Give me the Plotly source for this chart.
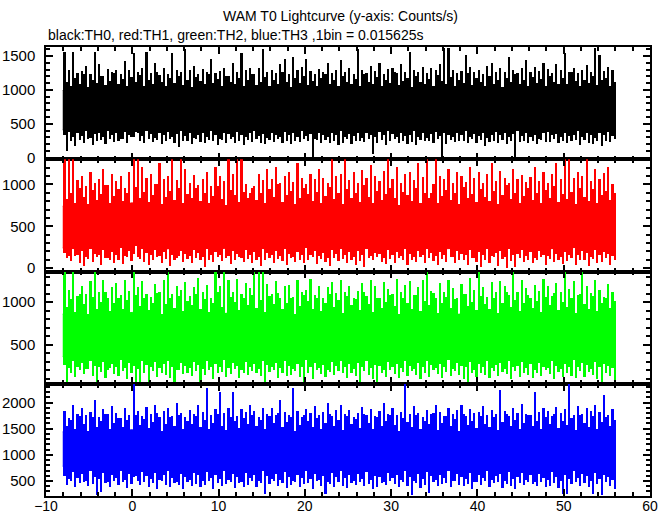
import numpy as np
import plotly.graph_objects as go
from plotly.subplots import make_subplots

# ---------------- data ----------------
# time grid (s) for the dense core envelope of each light curve
core_t = [-8.06, -6, -4, -2, 0, 2, 4, 6, 8, 10, 12, 14, 16, 18, 20, 22, 24, 26,
          28, 30, 32, 34, 36, 38, 40, 42, 44, 46, 48, 50, 52, 54, 56.0]
# spike time grids (s)
grid_a = np.round(-7.85 + 0.5 * np.arange(128), 3)
grid_b = np.round(-7.60 + 0.5 * np.arange(128), 3)

# TH0 (black)
th0_hi = [990, 970, 1000, 980, 1020, 990, 970, 1000, 990, 980, 1000, 970, 990, 1010, 980, 990, 1000,
          970, 990, 1010, 980, 990, 1000, 970, 990, 1010, 980, 990, 1000, 970, 990, 1010, 990]
th0_lo = [410, 430, 420, 440, 480, 420, 430, 410, 440, 420, 430, 410, 430, 420, 440, 410, 430,
          420, 410, 440, 420, 430, 410, 430, 420, 440, 410, 430, 420, 440, 410, 430, 420]
th0_up = [1560, 1300, 1555, 1250, 1280, 1350, 1230, 1560, 1380, 1200, 1310, 1260, 1300, 1240, 1420, 1290,
          1540, 1270, 1330, 1560, 1250, 1390, 1220, 1330, 1240, 1540, 1300, 1260, 1610, 1290, 1350, 1230,
          1310, 1270, 1460, 1250, 1280, 1330, 1200, 1400, 1260, 1540, 1290, 1330, 1240, 1320, 1610, 1270,
          1300, 1250, 1380, 1460, 1230, 1490, 1290, 1340, 1460, 1280, 1230, 1310, 1270, 1390, 1250, 1300,
          1440, 1260, 1320, 1240, 1610, 1290, 1250, 1350, 1280, 1400, 1240, 1310, 1330, 1250, 1380, 1270,
          1560, 1300, 1260, 1340, 1250, 1320, 1290, 1380, 1625, 1620, 1300, 1250, 1280, 1510, 1340, 1260,
          1300, 1240, 1350, 1400, 1270, 1320, 1260, 1490, 1300, 1250, 1330, 1440, 1260, 1340, 1280, 1400,
          1310, 1250, 1380, 1290, 1540, 1270, 1330, 1250, 1300, 1360, 1260, 1620, 1510, 1280, 1340, 1300]
th0_up2 = [1120, 1060, 1180, 1090, 1230, 1040, 1150, 1100, 1200, 1070, 1130, 1250, 1080, 1160, 1050, 1190,
           1110, 1220, 1060, 1140, 1090, 1270, 1120, 1050, 1170, 1100, 1210, 1070, 1150, 1040, 1190, 1130,
           1080, 1240, 1100, 1160, 1060, 1200, 1120, 1090, 1180, 1050, 1140, 1230, 1070, 1110, 1190, 1060,
           1150, 1090, 1260, 1120, 1040, 1180, 1100, 1210, 1070, 1130, 1050, 1170, 1240, 1090, 1140, 1060,
           1200, 1110, 1080, 1160, 1050, 1230, 1120, 1090, 1190, 1060, 1150, 1100, 1270, 1070, 1130, 1180,
           1040, 1210, 1110, 1090, 1160, 1060, 1220, 1130, 1080, 1190, 1050, 1140, 1100, 1250, 1070, 1170,
           1120, 1060, 1200, 1090, 1150, 1040, 1180, 1110, 1230, 1080, 1140, 1060, 1190, 1100, 1160, 1050,
           1210, 1120, 1080, 1170, 1090, 1260, 1130, 1060, 1150, 1100, 1200, 1070, 1140, 1180, 1050, 1120]
th0_dn = [100, 240, 170, 260, 220, 270, 180, 250, 260, 200, 280, 230, 240, 270, 210, 300,
          380, 250, 220, 270, 230, 260, 200, 250, 270, 210, 150, 240, 250, 200, 270, 230,
          210, 260, 240, 190, 260, 220, 270, 210, 240, 190, 260, 230, 270, 220, 200, 260,
          230, 270, 210, 250, 200, 250, 230, 270, 240, 0, 260, 220, 260, 210, 240, 190,
          220, 270, 200, 250, 250, 230, 270, 50, 210, 260, 190, 240, 270, 220, 250, 200,
          230, 190, 260, 240, 250, 220, 270, -30, 200, 260, 230, 250, 240, 210, 270, 220,
          260, 175, 230, 250, 220, 260, 200, 240, 0, 230, 250, 210, 250, 200, 260, 230,
          230, 270, 210, 250, 210, 240, 260, 190, 260, 220, 200, 250, 175, 250, 230, 270]
th0_dn2 = [340, 380, 300, 360, 320, 390, 290, 350, 370, 310, 400, 330, 360, 280, 380, 340,
           300, 370, 320, 390, 350, 290, 360, 330, 380, 310, 350, 400, 320, 370, 290, 340,
           360, 300, 390, 330, 280, 370, 350, 310, 380, 340, 300, 360, 390, 320, 350, 290,
           370, 330, 310, 380, 340, 360, 300, 390, 320, 350, 280, 370, 330, 310, 360, 340,
           390, 300, 350, 320, 370, 290, 360, 340, 310, 380, 330, 400, 350, 300, 370, 320,
           340, 390, 310, 360, 290, 350, 380, 320, 370, 330, 300, 360, 340, 390, 310, 350,
           320, 370, 290, 340, 380, 330, 360, 300, 350, 390, 320, 370, 310, 340, 280, 360,
           380, 330, 350, 300, 370, 320, 340, 390, 310, 360, 330, 290, 370, 340, 380, 320]

# TH1 (red)
th1_hi = [740, 710, 730, 750, 780, 720, 710, 740, 730, 720, 670, 710, 730, 720, 740, 710, 730,
          720, 700, 740, 730, 680, 720, 710, 730, 720, 740, 710, 720, 730, 710, 720, 700]
th1_lo = [240, 230, 250, 240, 300, 240, 230, 250, 240, 230, 250, 240, 230, 240, 250, 230, 240,
          250, 230, 240, 250, 240, 230, 240, 250, 230, 240, 250, 230, 240, 250, 240, 230]
th1_up = [1350, 1350, 1350, 1050, 1100, 980, 1150, 1020, 1060, 1180, 990, 1120, 1040, 1100, 960, 1150,
          1350, 1350, 1200, 1080, 1120, 1000, 1250, 1060, 1100, 1350, 1050, 1350, 1180, 1020, 1110, 990,
          1060, 1150, 980, 1200, 1100, 1040, 1350, 1120, 1350, 1350, 1000, 900, 980, 1120, 1050, 1180,
          1060, 1200, 1010, 1100, 1150, 1030, 1250, 1080, 1000, 1120, 1060, 1180, 1080, 1020, 1350, 1100,
          1120, 1350, 1050, 1150, 1010, 1170, 1080, 1230, 1100, 1040, 1160, 1350, 1060, 1200, 1020, 1120,
          1150, 1050, 1250, 1090, 1350, 900, 1350, 1100, 1060, 1180, 1010, 1140, 1100, 1030, 1200, 1070,
          1150, 1020, 1120, 1250, 1040, 1160, 1080, 1010, 1180, 1060, 1110, 1030, 1090, 1200, 1040, 1150,
          1020, 1120, 1250, 1060, 1350, 1350, 1080, 1150, 1100, 1350, 1040, 1180, 1060, 1130, 1200, 1000]
th1_up2 = [820, 900, 780, 960, 850, 760, 930, 810, 880, 990, 770, 860, 940, 800, 890, 750,
           970, 830, 910, 790, 870, 1000, 760, 850, 920, 810, 950, 780, 880, 840, 960, 800,
           900, 770, 860, 980, 820, 750, 930, 870, 790, 910, 840, 960, 810, 890, 770, 940,
           850, 1000, 790, 870, 920, 760, 830, 950, 880, 800, 910, 780, 860, 970, 820, 890,
           760, 940, 840, 900, 790, 990, 850, 770, 920, 810, 880, 960, 830, 750, 910, 870,
           800, 950, 780, 890, 840, 1000, 770, 860, 930, 810, 900, 760, 970, 830, 880, 790,
           940, 850, 800, 920, 760, 870, 990, 820, 900, 780, 860, 950, 810, 890, 770, 930,
           840, 980, 790, 880, 820, 910, 760, 960, 850, 800, 940, 780, 870, 920, 810, 890]
th1_dn = [120, 80, 140, 60, 20, 110, 70, 130, 30, 120, 90, 60, 100, 50, 130, 80,
          260, 110, 70, 30, 90, 130, 60, 110, 20, 100, 140, 70, 110, 60, 120, 90,
          10, 100, 70, 130, 80, 120, 50, 100, 130, 70, 110, 60, 100, 20, 90, 120,
          60, 110, 80, 40, 120, 70, 100, 60, 90, 130, 50, 110, 70, 20, 120, 80,
          110, 60, 100, 40, 80, 10, 120, 90, 130, 70, 50, 110, 60, 120, 90, 30,
          100, 70, 130, 60, 120, 80, 40, 110, 70, 130, 60, 100, 90, 40, 120, 70,
          10, 100, 60, 130, 20, 110, 0, 80, 10, 120, 70, 100, 60, 90, 130, 40,
          110, 70, 100, 50, 80, 120, 30, 90, 100, 20, 110, 60, 70, 120, 40, 100]
th1_dn2 = [180, 140, 220, 160, 200, 130, 230, 170, 150, 210, 120, 190, 160, 240, 140, 200,
           170, 130, 220, 180, 150, 210, 140, 190, 230, 160, 120, 200, 170, 140, 210, 180,
           130, 220, 160, 190, 150, 240, 140, 200, 170, 120, 210, 160, 190, 130, 230, 180,
           150, 200, 140, 220, 170, 130, 190, 160, 240, 150, 200, 140, 180, 120, 210, 170,
           230, 160, 190, 130, 200, 150, 220, 140, 180, 170, 120, 210, 160, 190, 140, 230,
           170, 130, 200, 150, 220, 180, 140, 190, 160, 240, 130, 200, 170, 150, 210, 120,
           190, 160, 230, 140, 180, 200, 130, 220, 150, 170, 210, 140, 190, 120, 200, 160,
           140, 220, 170, 130, 190, 150, 240, 160, 200, 180, 130, 210, 150, 190, 170, 140]

# TH2 (green)
th2_hi = [860, 840, 830, 850, 880, 830, 850, 840, 870, 860, 880, 840, 830, 850, 840, 830, 860,
          850, 840, 870, 830, 850, 840, 860, 830, 850, 840, 870, 830, 850, 840, 860, 830]
th2_lo = [360, 340, 350, 330, 400, 350, 340, 360, 350, 340, 350, 360, 340, 350, 360, 340, 350,
          350, 340, 360, 350, 340, 360, 350, 340, 350, 360, 340, 350, 360, 340, 350, 360]
th2_up = [1400, 1150, 1400, 1080, 1200, 1100, 1250, 1400, 1120, 1260, 1050, 1180, 1230, 1090, 1270, 1140,
          1400, 1180, 1250, 1100, 1070, 1220, 1130, 1260, 1400, 1100, 1200, 1150, 1240, 1080, 1180, 1290,
          1130, 1210, 1060, 1400, 1190, 1400, 1260, 1120, 1280, 1100, 1230, 1170, 1400, 1400, 1400, 1220,
          1100, 1250, 1050, 1190, 1210, 1070, 1260, 1130, 1150, 1280, 1090, 1200, 1060, 1180, 1240, 1110,
          1270, 1120, 1190, 1060, 1140, 1230, 1080, 1270, 1190, 1050, 1240, 1160, 1100, 1280, 1120, 1210,
          1250, 1090, 1180, 1270, 1400, 1140, 1060, 1230, 1120, 1260, 1170, 1050, 1220, 1100, 1290, 1150,
          1400, 1180, 1070, 1240, 1130, 1250, 1200, 1090, 1400, 1120, 1260, 1170, 1060, 1210, 1140, 1280,
          1190, 1080, 1230, 1120, 1400, 1160, 1250, 1090, 1400, 1200, 1110, 1260, 1150, 1070, 1220, 1130]
th2_up2 = [950, 1040, 890, 1100, 980, 870, 1070, 930, 1010, 1120, 900, 990, 1060, 920, 1030, 880,
           1090, 960, 1050, 910, 1000, 1110, 870, 980, 1060, 940, 1080, 900, 1020, 970, 1100, 930,
           1040, 890, 990, 1120, 950, 880, 1070, 1010, 910, 1050, 970, 1090, 940, 1030, 890, 1080,
           980, 1110, 920, 1000, 1060, 870, 960, 1090, 1020, 930, 1050, 900, 990, 1100, 950, 1030,
           880, 1080, 970, 1040, 910, 1120, 980, 890, 1060, 940, 1010, 1090, 960, 870, 1050, 1000,
           930, 1090, 900, 1020, 970, 1110, 880, 990, 1070, 940, 1040, 870, 1100, 960, 1010, 910,
           1080, 980, 930, 1060, 880, 1000, 1120, 950, 1030, 900, 990, 1090, 940, 1020, 890, 1070,
           970, 1110, 910, 1010, 950, 1050, 880, 1100, 980, 930, 1080, 900, 1000, 1060, 940, 1020]
th2_dn = [50, 180, 130, 210, 160, 220, 140, 60, 190, 120, 230, 160, 140, 200, 110, 180,
          60, 50, 170, 60, 200, 130, 180, 150, 120, 50, 210, 160, 180, 140, 200, 60,
          150, 210, 110, 170, 190, 130, 160, 220, 120, 180, 150, 200, 170, 140, 50, 190,
          210, 120, 180, 140, 150, 200, 130, 60, 180, 110, 210, 160, 130, 190, 150, 200,
          170, 120, 180, 140, 60, 200, 150, 110, 70, 180, 130, 210, 160, 120, 190, 140,
          200, 150, 110, 180, 130, 210, 160, 120, 190, 140, 200, 150, 110, 60, 170, 130,
          180, 150, 120, 200, 140, 190, 160, 110, 200, 130, 180, 150, 120, 170, 140, 210,
          160, 110, 190, 130, 180, 140, 120, 200, 130, 190, 150, 110, 60, 170, 140, 50]
th2_dn2 = [270, 230, 310, 250, 290, 220, 320, 260, 240, 300, 210, 280, 250, 330, 230, 290,
           260, 220, 310, 270, 240, 300, 230, 280, 320, 250, 210, 290, 260, 230, 300, 270,
           220, 310, 250, 280, 240, 330, 230, 290, 260, 210, 300, 250, 280, 220, 320, 270,
           240, 290, 230, 310, 260, 220, 280, 250, 330, 240, 290, 230, 270, 210, 300, 260,
           320, 250, 280, 220, 290, 240, 310, 230, 270, 260, 210, 300, 250, 280, 230, 320,
           260, 220, 290, 240, 310, 270, 230, 280, 250, 330, 220, 290, 260, 240, 300, 210,
           280, 250, 320, 230, 270, 290, 220, 310, 240, 260, 300, 230, 280, 210, 290, 250,
           230, 310, 260, 220, 280, 240, 330, 250, 290, 270, 220, 300, 240, 280, 260, 230]

# TH3 (blue)
th3_hi = [1440, 1400, 1420, 1450, 1480, 1410, 1430, 1400, 1440, 1420, 1450, 1410, 1430, 1420, 1400, 1440, 1430,
          1410, 1420, 1450, 1400, 1430, 1420, 1440, 1410, 1430, 1420, 1400, 1440, 1420, 1410, 1430, 1420]
th3_lo = [780, 760, 740, 770, 830, 750, 770, 760, 740, 770, 760, 750, 780, 760, 740, 770, 750,
          760, 780, 740, 770, 760, 750, 780, 760, 740, 770, 760, 750, 770, 760, 740, 780]
th3_up = [1850, 1700, 1950, 1780, 1900, 1760, 1820, 2050, 1720, 1880, 1790, 1930, 1810, 1700, 1900, 1770,
          2360, 1850, 1740, 1920, 1780, 1960, 1720, 1850, 1900, 1750, 2000, 1800, 1730, 1870, 1790, 1950,
          1820, 2280, 1760, 1880, 2210, 1800, 1900, 2210, 1750, 1880, 1820, 1960, 1840, 1720, 1910, 1790,
          1900, 1770, 2050, 1830, 1760, 2280, 1850, 1730, 1880, 1800, 1940, 1760, 1820, 1990, 1740, 1870,
          1950, 1780, 1860, 1720, 1800, 1920, 1760, 1880, 1740, 1850, 2000, 1790, 1900, 1760, 1830, 2360,
          1780, 1940, 1810, 1720, 1870, 1790, 1960, 1830, 1750, 1900, 1780, 1860, 1960, 1740, 1880, 1800,
          1820, 1930, 1760, 1870, 1790, 2240, 1850, 1740, 1900, 1810, 1970, 1780, 1760, 2210, 1830, 1900,
          1850, 1740, 1920, 1800, 1880, 2360, 1770, 1940, 1790, 1900, 1840, 1960, 1830, 2150, 1760, 1880]
th3_up2 = [1560, 1680, 1490, 1750, 1600, 1470, 1720, 1540, 1650, 1790, 1500, 1620, 1710, 1530, 1670, 1480,
           1760, 1580, 1690, 1520, 1640, 1800, 1470, 1600, 1730, 1550, 1770, 1500, 1660, 1590, 1750, 1540,
           1680, 1490, 1620, 1790, 1560, 1480, 1720, 1650, 1520, 1700, 1590, 1760, 1550, 1670, 1490, 1740,
           1610, 1800, 1530, 1640, 1720, 1470, 1580, 1770, 1660, 1540, 1700, 1500, 1620, 1780, 1560, 1680,
           1480, 1750, 1600, 1690, 1520, 1790, 1610, 1490, 1730, 1550, 1650, 1770, 1580, 1470, 1710, 1630,
           1540, 1770, 1500, 1660, 1590, 1800, 1480, 1620, 1740, 1550, 1690, 1470, 1780, 1580, 1650, 1520,
           1750, 1600, 1540, 1720, 1480, 1640, 1790, 1560, 1680, 1500, 1620, 1770, 1550, 1660, 1490, 1730,
           1590, 1790, 1520, 1650, 1570, 1700, 1480, 1760, 1610, 1540, 1740, 1500, 1630, 1720, 1550, 1670]
th3_dn = [420, 500, 380, 460, 480, 400, 450, 230, 300, 460, 390, 500, 430, 480, 370, 450,
          600, 420, 490, 380, 460, 350, 500, 420, 390, 470, 430, 360, 490, 400, 450, 380,
          430, 500, 360, 470, 400, 440, 490, 370, 460, 390, 420, 500, 380, 470, 260, 440,
          500, 410, 460, 370, 420, 490, 380, 450, 470, 360, 500, 410, 250, 450, 390, 480,
          410, 370, 460, 430, 490, 400, 440, 360, 380, 470, 420, 500, 450, 390, 480, 410,
          240, 460, 370, 430, 280, 490, 410, 450, 470, 380, 500, 420, 400, 450, 360, 480,
          430, 500, 390, 460, 480, 370, 440, 410, 360, 460, 420, 490, 450, 400, 480, 380,
          410, 470, 370, 250, 260, 440, 490, 400, 460, 380, 250, 450, 240, 480, 410, 360]
th3_dn2 = [600, 540, 670, 570, 640, 510, 690, 590, 550, 660, 490, 620, 570, 700, 530, 640,
           590, 510, 670, 600, 550, 660, 530, 620, 690, 570, 490, 640, 590, 530, 660, 610,
           510, 680, 570, 620, 550, 700, 530, 640, 590, 490, 660, 570, 620, 510, 690, 600,
           550, 640, 530, 670, 590, 510, 620, 570, 700, 550, 640, 530, 600, 490, 660, 590,
           690, 570, 620, 510, 640, 550, 680, 530, 600, 590, 490, 660, 570, 620, 530, 690,
           590, 510, 640, 550, 670, 600, 530, 620, 570, 700, 510, 640, 590, 550, 660, 490,
           620, 570, 690, 530, 600, 640, 510, 670, 550, 590, 660, 530, 620, 490, 640, 570,
           530, 680, 590, 510, 620, 550, 700, 570, 640, 600, 510, 660, 550, 620, 590, 530]

series = [
    ("TH0", "#000000", th0_hi, th0_lo, th0_up, th0_up2, th0_dn, th0_dn2),
    ("TH1", "#ff0000", th1_hi, th1_lo, th1_up, th1_up2, th1_dn, th1_dn2),
    ("TH2", "#00ff00", th2_hi, th2_lo, th2_up, th2_up2, th2_dn, th2_dn2),
    ("TH3", "#0000ff", th3_hi, th3_lo, th3_up, th3_up2, th3_dn, th3_dn2),
]
y_ranges = [[-24, 1633], [-40, 1301], [43, 1359], [212, 2360]]

TITLE = "WAM T0 Lightcurve (y-axis: Counts/s)"
SUBTITLE = "black:TH0, red:TH1, green:TH2, blue:TH3 ,1bin = 0.015625s"

# ---------------- figure ----------------
FONT = "Liberation Sans, Arial, Helvetica, sans-serif"
fig = make_subplots(rows=4, cols=1, shared_xaxes=True, vertical_spacing=0)
BAR_W = 0.25

for i, (name, col, hi, lo, up, up2, dn, dn2) in enumerate(series):
    r = i + 1
    hi = np.array(hi, float)
    lo = np.array(lo, float)
    mid = (hi + lo) / 2
    # dense core of the light curve
    fig.add_trace(go.Scatter(
        x=list(core_t) + list(core_t[::-1]), y=list(hi) + list(lo[::-1]),
        fill="toself", fillcolor=col, mode="lines",
        line=dict(color=col, width=1), hoverinfo="skip", showlegend=False,
        name=name), row=r, col=1)
    # spikes above and below the core
    for t_grid, vals, upward in ((grid_a, up, True), (grid_b, up2, True),
                                 (grid_b, dn, False), (grid_a, dn2, False)):
        vals = np.array(vals, float)
        m = np.interp(t_grid, core_t, mid)
        if upward:
            base, height = m, vals - m
        else:
            base, height = vals, m - vals
        fig.add_trace(go.Bar(x=t_grid, y=height, base=base, width=BAR_W,
                             marker=dict(color=col, line=dict(width=0)),
                             hoverinfo="skip", showlegend=False, name=name),
                      row=r, col=1)

axis_common = dict(showline=True, linecolor="black", linewidth=1.5, mirror="ticks",
                   ticks="inside", ticklen=7, tickwidth=1.5, tickcolor="black",
                   showgrid=False, zeroline=False, automargin=False)

for i in range(4):
    r = i + 1
    fig.update_xaxes(range=[-10, 60], dtick=10, tick0=0,
                     minor=dict(dtick=2, ticklen=4, ticks="inside", tickcolor="black", tickwidth=1.5),
                     tickfont=dict(family=FONT, size=14, color="black"),
                     ticklabelstandoff=-4,
                     showticklabels=(r == 4), row=r, col=1, **axis_common)
    fig.update_yaxes(range=y_ranges[i], dtick=500, tick0=0,
                     minor=dict(dtick=100, ticklen=4, ticks="inside", tickcolor="black", tickwidth=1.5),
                     tickfont=dict(family=FONT, size=15, color="black"),
                     ticklabelstandoff=6, row=r, col=1, **axis_common)

fig.update_layout(
    width=672, height=515,
    margin=dict(l=46, r=22, t=47, b=19, pad=0, autoexpand=False),
    paper_bgcolor="white", plot_bgcolor="white",
    barmode="overlay", bargap=0,
    showlegend=False,
    font=dict(family=FONT, color="black"),
    annotations=[
        dict(text=TITLE, xref="paper", yref="paper", x=0.488, y=1.069,
             xanchor="center", yanchor="middle", showarrow=False,
             font=dict(family=FONT, size=14, color="black")),
        dict(text=SUBTITLE, xref="paper", yref="paper", x=0.0, y=1.027,
             xanchor="left", yanchor="middle", showarrow=False,
             font=dict(family=FONT, size=14, color="black")),
    ],
)

fig.write_html("out.html", config={"displayModeBar": False},
               post_script="document.body.style.margin='0';document.body.style.padding='0';"
                           "document.body.style.overflow='hidden';")
